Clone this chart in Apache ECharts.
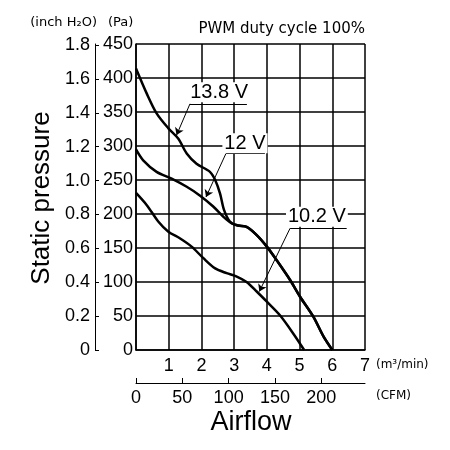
<!DOCTYPE html>
<html lang="en">
<head>
  <meta charset="UTF-8">
  <title>Static pressure vs airflow</title>
  <script src="https://cdn.jsdelivr.net/npm/echarts@6/dist/echarts.min.js"></script>
  <style>
    html, body { margin: 0; padding: 0; background: #fff; }
    #chart { width: 450px; height: 450px; }
  </style>
</head>
<body>
  <div id="chart"></div>
  <script>
    // curves: airflow (m3/min) and static pressure (Pa)
    const flow138 = [0, 0.33, 0.63, 0.99, 1.29, 1.55, 1.85, 2.26, 2.42, 2.57, 2.69, 2.87, 3.1, 3.38, 3.69, 4.0, 4.3, 4.71, 5.02, 5.42, 5.73, 6.0];
    const pa138   = [414, 377, 348, 326, 311, 289, 274, 262, 250, 230, 206, 189, 183, 181, 169, 152, 132, 103, 78, 49, 20, 0];

    const flow12 = [0, 0.22, 0.63, 1.09, 1.55, 1.96, 2.36, 2.67, 2.93, 3.15, 3.38, 3.69, 4.0, 4.3, 4.71, 5.02, 5.42, 5.73, 6.0];
    const pa12   = [295, 279, 262, 252, 240, 227, 211, 196, 186, 183, 181, 169, 152, 132, 103, 78, 49, 20, 0];

    const flow102 = [0, 0.33, 0.68, 0.99, 1.35, 1.70, 2.06, 2.42, 2.77, 3.08, 3.38, 3.69, 4.0, 4.40, 4.81, 5.14];
    const pa102   = [231, 213, 189, 174, 164, 152, 135, 120, 113, 108, 100, 86, 71, 51, 24, 0];

    const seriesNames = ['13.8 V', '12 V', '10.2 V'];

    // tick labels
    const cfmTicks = [0, 50, 100, 150, 200];
    const inchTicks = [0, 0.2, 0.4, 0.6, 0.8, 1.0, 1.2, 1.4, 1.6, 1.8];

    const PA_PER_INCH = 249.089;
    const CFM_PER_M3MIN = 35.3147;

    const numFont = "'Liberation Sans Narrow', 'Liberation Sans', sans-serif";
    const textFont = "'Liberation Sans', Arial, sans-serif";
    const black = '#000';

    function zip(xs, ys) {
      return xs.map((x, i) => [x, ys[i]]);
    }

    // callout: label text position, underline ends, arrow tip (all in data units)
    const callouts = [
      { text: [2.54, 379], line: [[1.65, 362], [3.39, 362]], tip: [1.24, 316] },
      { text: [3.33, 304], line: [[2.75, 289], [3.94, 289]], tip: [2.14, 225] },
      { text: [5.53, 196], line: [[4.71, 179], [6.44, 179]], tip: [3.77, 86] }
    ];

    function curve(name, xs, ys, c) {
      return {
        name: name,
        type: 'line',
        data: zip(xs, ys),
        showSymbol: false,
        smooth: 0.3,
        silent: true,
        lineStyle: { color: black, width: 2.5 },
        z: 3,
        markLine: {
          silent: true,
          symbolSize: 7,
          label: { show: false },
          lineStyle: { color: black, width: 1, type: 'solid' },
          data: [
            [{ coord: c.line[0], symbol: 'none' }, { coord: c.line[1], symbol: 'none' }],
            [{ coord: c.line[0], symbol: 'none' }, { coord: c.tip, symbol: 'arrow' }]
          ]
        },
        markPoint: {
          silent: true,
          symbol: 'circle',
          symbolSize: 0,
          z: 6,
          label: {
            show: true,
            position: 'inside',
            formatter: '{b}',
            color: black,
            fontSize: 20,
            fontFamily: textFont,
            backgroundColor: '#fff',
            padding: [0, 2]
          },
          data: [{ name: name, coord: c.text }]
        }
      };
    }

    const tickLabel = { color: black, fontSize: 18, fontFamily: numFont };

    const option = {
      animation: false,
      backgroundColor: '#fff',
      grid: { left: 136, top: 44, width: 229, height: 306 },
      xAxis: [
        {
          type: 'value', min: 0, max: 7, interval: 1,
          axisLine: { show: true, onZero: false, lineStyle: { color: black, width: 1.5 } },
          axisTick: { show: false },
          axisLabel: Object.assign({}, tickLabel, {
            margin: 7,
            formatter: v => (v === 0 ? '' : v)
          }),
          splitLine: { show: true, lineStyle: { color: black, width: 1.5 } }
        },
        {
          type: 'value', min: 0, max: 7 * CFM_PER_M3MIN,
          position: 'bottom', offset: 33,
          axisLine: { show: true, onZero: false, lineStyle: { color: black, width: 1 } },
          axisTick: { show: true, inside: true, length: 5, customValues: cfmTicks, lineStyle: { color: black } },
          axisLabel: Object.assign({}, tickLabel, { customValues: cfmTicks, margin: 6 }),
          splitLine: { show: false }
        }
      ],
      yAxis: [
        {
          type: 'value', min: 0, max: 450, interval: 50,
          axisLine: { show: true, onZero: false, lineStyle: { color: black, width: 1.5 } },
          axisTick: { show: false },
          axisLabel: Object.assign({}, tickLabel, { margin: 3 }),
          splitLine: { show: true, lineStyle: { color: black, width: 1.5 } }
        },
        {
          type: 'value', min: 0, max: 450 / PA_PER_INCH,
          position: 'left', offset: 41,
          axisLine: { show: true, onZero: false, lineStyle: { color: black, width: 1 } },
          axisTick: { show: true, inside: true, length: 4, customValues: inchTicks, lineStyle: { color: black } },
          axisLabel: Object.assign({}, tickLabel, {
            customValues: inchTicks, margin: 5,
            formatter: v => (v === 0 ? '0' : v.toFixed(1))
          }),
          splitLine: { show: false }
        }
      ],
      series: [
        curve(seriesNames[0], flow138, pa138, callouts[0]),
        curve(seriesNames[1], flow12, pa12, callouts[1]),
        curve(seriesNames[2], flow102, pa102, callouts[2])
      ],
      graphic: [
        { type: 'text', x: 97, y: 23, style: { text: '(inch H₂O)', fill: black, font: "13px 'DejaVu Sans', sans-serif", textAlign: 'right', textVerticalAlign: 'middle' } },
        { type: 'text', x: 108, y: 23, style: { text: '(Pa)', fill: black, font: "13px 'DejaVu Sans', sans-serif", textAlign: 'left', textVerticalAlign: 'middle' } },
        { type: 'text', x: 365, y: 29, style: { text: 'PWM duty cycle 100%', fill: black, font: "15px 'DejaVu Sans', sans-serif", textAlign: 'right', textVerticalAlign: 'middle' } },
        { type: 'text', x: 376, y: 365, style: { text: '(m³/min)', fill: black, font: "12px 'DejaVu Sans', sans-serif", textAlign: 'left', textVerticalAlign: 'middle' } },
        { type: 'text', x: 376, y: 396, style: { text: '(CFM)', fill: black, font: "12px 'DejaVu Sans', sans-serif", textAlign: 'left', textVerticalAlign: 'middle' } },
        { type: 'text', x: 251, y: 423, style: { text: 'Airflow', fill: black, font: "27px " + textFont, textAlign: 'center', textVerticalAlign: 'middle' } },
        { type: 'text', x: 42, y: 198, rotation: Math.PI / 2, style: { text: 'Static pressure', fill: black, font: "26px " + textFont, textAlign: 'center', textVerticalAlign: 'middle' } }
      ]
    };

    const chart = echarts.init(document.getElementById('chart'));
    chart.setOption(option);
  </script>
</body>
</html>
